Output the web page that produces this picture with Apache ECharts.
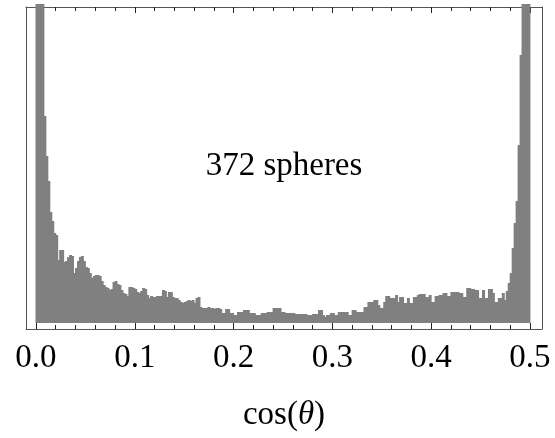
<!DOCTYPE html>
<html>
<head>
<meta charset="utf-8">
<script src="https://cdn.jsdelivr.net/npm/echarts@6/dist/echarts.min.js"></script>
<style>
  html, body { margin: 0; padding: 0; background: #fff; }
  #chart { width: 555px; height: 438px; }
</style>
</head>
<body>
<div id="chart"></div>
<script>
// Histogram of cos(theta), 250 bins of width 0.002 from 0 to 0.5
const binStart = 0;
const binWidth = 0.002;
// heights (arbitrary units); first/last spikes run off the top
const counts = [
  319, 319, 319, 319, 207, 167, 142, 111, 102, 90,
  88, 63, 73, 73, 61, 62, 66, 68, 67, 50,
  55, 62, 66, 67, 62, 56, 55, 50, 45, 47,
  48, 48, 47, 42, 38, 36, 35, 33, 34, 41,
  42, 39, 38, 33, 30, 29, 27, 36, 36, 35,
  34, 31, 30, 32, 35, 34, 28, 25, 27, 26,
  26, 27, 27, 27, 33, 32, 26, 31, 31, 26,
  25, 25, 23, 21, 20, 21, 22, 23, 22, 23,
  20, 25, 26, 16, 15, 15, 15, 16, 15, 15,
  14, 15, 15, 14, 10, 10, 14, 14, 10, 10,
  8, 8, 11, 11, 11, 13, 13, 13, 10, 10,
  10, 8, 8, 8, 10, 10, 10, 11, 11, 11,
  15, 15, 15, 15, 11, 11, 10, 10, 10, 10,
  10, 9, 9, 9, 9, 9, 9, 8, 8, 8,
  9, 9, 9, 13, 13, 8, 6, 8, 8, 10,
  10, 8, 8, 11, 11, 11, 11, 11, 8, 8,
  13, 13, 11, 11, 11, 11, 16, 16, 21, 21,
  21, 23, 23, 18, 15, 15, 21, 27, 27, 25,
  25, 25, 28, 21, 26, 26, 20, 20, 25, 20,
  20, 26, 26, 28, 29, 29, 29, 26, 26, 28,
  21, 21, 27, 27, 28, 28, 30, 30, 27, 27,
  31, 31, 31, 31, 30, 30, 26, 26, 35, 35,
  34, 34, 33, 33, 25, 25, 33, 25, 25, 34,
  34, 30, 21, 21, 25, 25, 30, 23, 32, 40,
  50, 75, 100, 122, 178, 268, 319, 319, 319, 319
];
const majorTicks = [0.0, 0.1, 0.2, 0.3, 0.4, 0.5];
const minorTicks = [0.02, 0.04, 0.06, 0.08, 0.12, 0.14, 0.16, 0.18, 0.22, 0.24, 0.26, 0.28,
                    0.32, 0.34, 0.36, 0.38, 0.42, 0.44, 0.46, 0.48];
const annotation = '372 spheres';
const xTitleMain = 'cos(';
const xTitleSym = 'θ';
const xTitleEnd = ')';

const xMin = -0.0101, xMax = 0.5122;
const yMin = -6, yMax = 316;

const histData = counts.map((c, i) => [binStart + i * binWidth, binStart + (i + 1) * binWidth, c]);

const serif = '"Liberation Serif", "DejaVu Serif", serif';
const frameColor = '#555';
const tickColor = '#222';

function xAx(pos, ticks, len, showLine, showLabel) {
  return {
    type: 'value', position: pos, min: xMin, max: xMax,
    axisLine: { show: showLine, onZero: false, lineStyle: { color: frameColor, width: 1 } },
    axisTick: { show: true, inside: true, length: len, customValues: ticks,
                lineStyle: { color: tickColor, width: 1 } },
    axisLabel: showLabel ? {
      show: true, customValues: majorTicks, margin: 13,
      formatter: v => v.toFixed(1),
      fontFamily: serif, fontSize: 33, color: '#000'
    } : { show: false },
    splitLine: { show: false }
  };
}

const chart = echarts.init(document.getElementById('chart'), null, { renderer: 'canvas' });
chart.setOption({
  animation: false,
  backgroundColor: '#fff',
  grid: { left: 26, right: 13, top: 7, bottom: 109, containLabel: false, outerBoundsMode: 'none' },
  xAxis: [
    xAx('bottom', majorTicks, 6, true, true),
    xAx('bottom', minorTicks, 4, false, false),
    xAx('top', majorTicks, 6, true, false),
    xAx('top', minorTicks, 4, false, false)
  ],
  yAxis: [
    { type: 'value', position: 'left', min: yMin, max: yMax,
      axisLine: { show: true, onZero: false, lineStyle: { color: frameColor, width: 1 } },
      axisTick: { show: false }, axisLabel: { show: false }, splitLine: { show: false } },
    { type: 'value', position: 'right', min: yMin, max: yMax,
      axisLine: { show: true, onZero: false, lineStyle: { color: frameColor, width: 1 } },
      axisTick: { show: false }, axisLabel: { show: false }, splitLine: { show: false } }
  ],
  series: [{
    type: 'custom',
    xAxisIndex: 0, yAxisIndex: 0,
    clip: false,
    data: histData,
    renderItem: function (params, api) {
      const p0 = api.coord([api.value(0), 0]);
      const p1 = api.coord([api.value(1), api.value(2)]);
      return {
        type: 'rect',
        shape: { x: p0[0] - 0.5, y: p1[1], width: p1[0] - p0[0] + 1, height: p0[1] - p1[1] },
        style: { fill: '#808080' }
      };
    }
  }],
  graphic: [
    { type: 'text', x: 284, y: 166,
      style: { text: annotation, textAlign: 'center', textVerticalAlign: 'middle',
               font: '33px ' + serif, fill: '#000' } },
    { type: 'text', x: 284, y: 415,
      style: {
        text: '{n|' + xTitleMain + '}{i|' + xTitleSym + '}{n|' + xTitleEnd + '}',
        textAlign: 'center', textVerticalAlign: 'middle',
        rich: {
          n: { fontFamily: serif, fontSize: 33, fill: '#000', color: '#000' },
          i: { fontFamily: serif, fontSize: 33, fontStyle: 'italic', fill: '#000', color: '#000' }
        }
      } }
  ]
});
</script>
</body>
</html>
